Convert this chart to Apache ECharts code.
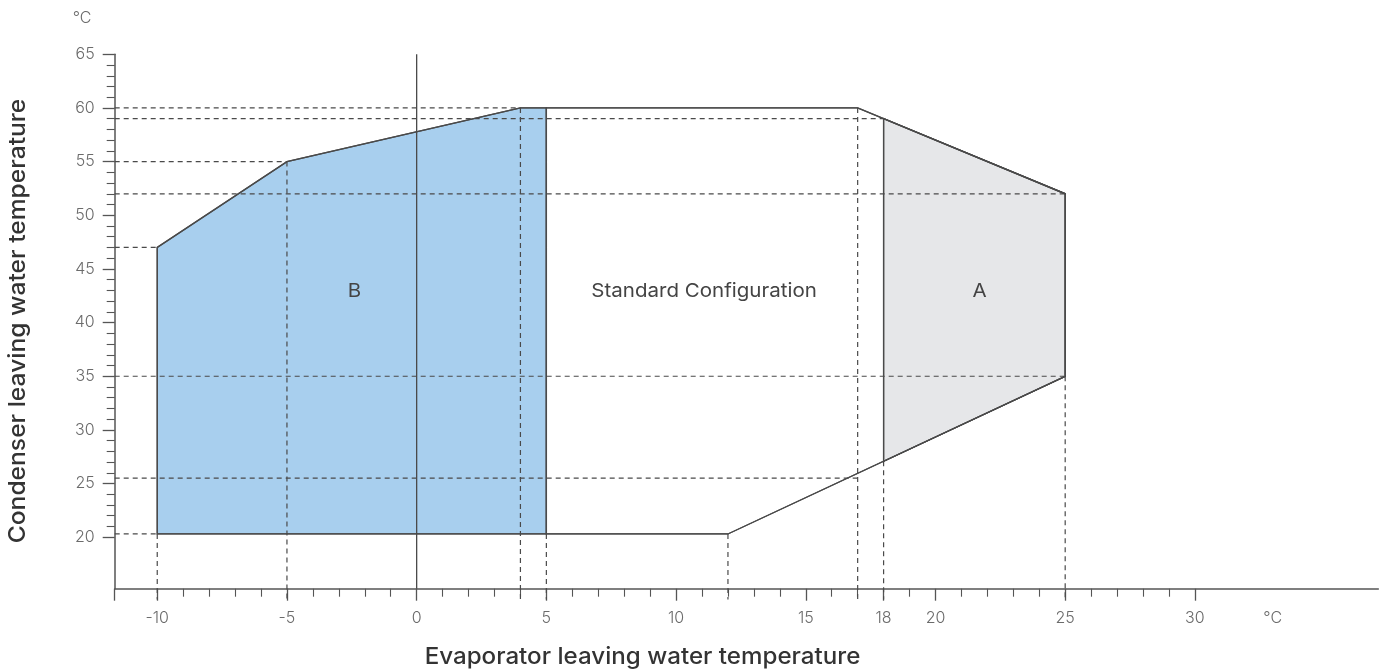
<!DOCTYPE html>
<html>
<head>
<meta charset="utf-8">
<script src="https://cdn.jsdelivr.net/npm/echarts@6/dist/echarts.min.js"></script>
<style>html,body{margin:0;padding:0;background:#fff;}#c{width:1386px;height:672px;}</style>
</head>
<body>
<div id="c"></div>
<script>
// ---- data ----
var xMin = -11.64, xMax = 37.07;
var yMin = 15.2, yMax = 65;
var xMajorTicks = [-10, -5, 0, 5, 10, 15, 18, 20, 25, 30];
var xLabelUnitPos = 33;
var yMajorTicks = [20, 25, 30, 35, 40, 45, 50, 55, 60, 65];
var regionB = [[-10, 20.3], [-10, 47], [-5, 55], [4, 60], [5, 60], [5, 20.3]];
var regionStd = [[5, 20.3], [5, 60], [17, 60], [25, 52], [25, 35], [12, 20.3]];
var regionA = [[18, 59], [25, 52], [25, 35], [18, 27.08]];
// horizontal dashed reference lines: [y, x where they end]
var hDash = [[60, 4], [59, 18], [55, -5], [52, 25], [47, -10], [35, 25], [25.5, 17], [20.3, -10]];
// vertical dashed reference lines: [x, y where they start]
var vDash = [[-10, 20.3], [-5, 55], [4, 60], [5, 20.3], [12, 20.3], [17, 60], [18, 27.08], [25, 35]];
var regionLabels = [['B', -2.4, 42.9], ['Standard Configuration', 11.08, 42.9], ['A', 21.7, 42.9]];

// ---- build ----
var xMinor = [], yMinor = [];
for (var i = -9; i <= 29; i++) if (xMajorTicks.indexOf(i) < 0) xMinor.push(i);
for (var j = 21; j <= 64; j++) if (yMajorTicks.indexOf(j) < 0) yMinor.push(j);

var lineColor = '#4a4a4a';
var axisColor = '#555';
var labelColor = '#6b6b6b';
var tickFont = 'Inter, sans-serif';

function polySeries(pts, fill, z) {
  return {
    type: 'custom', xAxisIndex: 0, yAxisIndex: 0, z: z, silent: true,
    data: pts,
    renderItem: function (params, api) {
      if (params.dataIndex !== 0) return null;
      var p = pts.map(function (d) { return api.coord(d); });
      return {
        type: 'polygon',
        shape: { points: p },
        style: { fill: fill, stroke: lineColor, lineWidth: 1.3 }
      };
    }
  };
}

var series = [];
series.push(polySeries(regionStd, 'rgba(0,0,0,0)', 1));
series.push(polySeries(regionB, '#a8cfee', 1));
series.push(polySeries(regionA, '#e6e7e9', 2));
hDash.forEach(function (h) {
  series.push({ type: 'line', xAxisIndex: 0, yAxisIndex: 0, z: 4, symbol: 'none', silent: true, clip: false,
    data: [[xMin, h[0]], [h[1], h[0]]],
    lineStyle: { color: lineColor, width: 1.2, type: [5, 4] } });
});
vDash.forEach(function (v) {
  series.push({ type: 'line', xAxisIndex: 0, yAxisIndex: 0, z: 4, symbol: 'none', silent: true, clip: false,
    data: [[v[0], v[1]], [v[0], yMin - 1.0]],
    lineStyle: { color: lineColor, width: 1.2, type: [5, 4] } });
});
// outlines on top of dashed lines
series.push({ type: 'custom', xAxisIndex: 0, yAxisIndex: 0, z: 5, silent: true, data: regionStd,
  renderItem: function (params, api) {
    if (params.dataIndex !== 0) return null;
    var groups = [regionB, regionStd, regionA];
    return { type: 'group', children: groups.map(function (g) {
      return { type: 'polygon', shape: { points: g.map(function (d) { return api.coord(d); }) },
        style: { fill: 'none', stroke: lineColor, lineWidth: 1.3 } };
    }) };
  } });
// vertical solid line at x = 0
series.push({ type: 'line', xAxisIndex: 0, yAxisIndex: 0, z: 5, symbol: 'none', silent: true, clip: false,
  data: [[0, yMax], [0, yMin]], lineStyle: { color: lineColor, width: 1.3 } });
// region labels
series.push({ type: 'custom', xAxisIndex: 0, yAxisIndex: 0, z: 6, silent: true,
  data: regionLabels.map(function (r) { return [r[1], r[2], r[0]]; }),
  renderItem: function (params, api) {
    var p = api.coord([api.value(0), api.value(1)]);
    return { type: 'text', x: p[0], y: p[1], scaleX: 1.08,
      style: { text: regionLabels[params.dataIndex][0], fill: '#444', font: '19px Inter, sans-serif',
        align: 'center', verticalAlign: 'middle' } };
  } });

var option = {
  animation: false,
  backgroundColor: '#fff',
  grid: { left: 114.7, right: 7.7, top: 54.3, bottom: 83.3, containLabel: false, outerBoundsMode: 'none' },
  xAxis: [
    { type: 'value', min: xMin, max: xMax, position: 'bottom',
      axisLine: { show: true, onZero: false, lineStyle: { color: axisColor, width: 1.5 } },
      axisTick: { show: true, customValues: [xMin].concat(xMajorTicks), length: 12, lineStyle: { color: axisColor, width: 1.3 } },
      axisLabel: { show: true, customValues: xMajorTicks.concat([xLabelUnitPos]), margin: 21, color: labelColor,
        fontFamily: tickFont, fontSize: 16, fontWeight: 300,
        formatter: function (v) { return v === xLabelUnitPos ? '°C' : String(v); } },
      splitLine: { show: false } },
    { type: 'value', min: xMin, max: xMax, position: 'bottom',
      axisLine: { show: false, onZero: false },
      axisTick: { show: true, customValues: xMinor, length: 8, lineStyle: { color: axisColor, width: 1.1 } },
      axisLabel: { show: false }, splitLine: { show: false } }
  ],
  yAxis: [
    { type: 'value', min: yMin, max: yMax, position: 'left',
      axisLine: { show: true, onZero: false, lineStyle: { color: axisColor, width: 1.5 } },
      axisTick: { show: true, customValues: yMajorTicks, length: 12, lineStyle: { color: axisColor, width: 1.3 } },
      axisLabel: { show: true, customValues: yMajorTicks, margin: 20, color: labelColor,
        fontFamily: tickFont, fontSize: 16, fontWeight: 300 },
      splitLine: { show: false } },
    { type: 'value', min: yMin, max: yMax, position: 'left',
      axisLine: { show: false, onZero: false },
      axisTick: { show: true, customValues: yMinor, length: 8, lineStyle: { color: axisColor, width: 1.1 } },
      axisLabel: { show: false }, splitLine: { show: false } }
  ],
  graphic: [
    { type: 'text', x: 82, y: 18, style: { text: '°C', fill: labelColor, font: '300 16px Inter, sans-serif',
      align: 'center', verticalAlign: 'middle' } },
    { type: 'text', x: 642.5, y: 657, scaleX: 1.05, style: { text: 'Evaporator leaving water temperature', fill: '#333',
      font: '500 23px Inter, sans-serif', align: 'center', verticalAlign: 'middle' } },
    { type: 'text', x: 18, y: 321, rotation: Math.PI / 2, scaleX: 1.07, style: { text: 'Condenser leaving water temperature', fill: '#333',
      font: '500 23px Inter, sans-serif', align: 'center', verticalAlign: 'middle' } }
  ],
  series: series
};
var chart = echarts.init(document.getElementById('c'), null, { renderer: 'canvas' });
chart.setOption(option);
</script>
</body>
</html>
